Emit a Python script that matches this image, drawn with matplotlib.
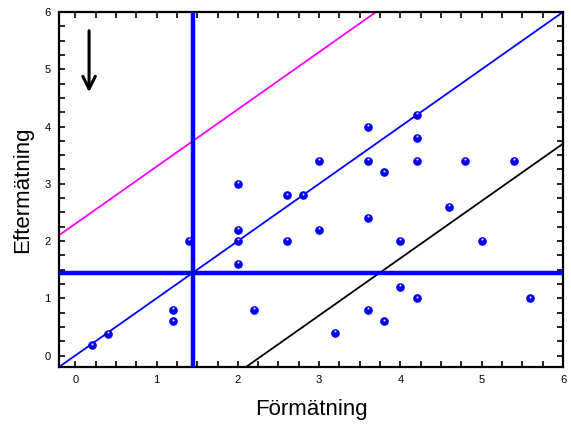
import matplotlib
matplotlib.use("Agg")
import matplotlib.pyplot as plt
import matplotlib.transforms as mtransforms
import numpy as np
from matplotlib.ticker import MultipleLocator

plt.rcParams.update({
    "font.family": ["Liberation Sans", "DejaVu Sans"],
})

# data
fore = [0.2, 0.4, 1.2, 1.2, 1.4, 2.0, 2.0, 2.0, 2.0, 2.2, 2.6, 2.6, 2.8, 3.0, 3.0,
        3.2, 3.6, 3.6, 3.6, 3.6, 3.8, 3.8, 4.0, 4.0, 4.2, 4.2, 4.2, 4.2, 4.6,
        4.8, 5.0, 5.4, 5.6]
efter = [0.18, 0.38, 0.8, 0.6, 2.0, 3.0, 2.2, 2.0, 1.6, 0.8, 2.8, 2.0, 2.8, 3.4, 2.2,
         0.4, 4.0, 3.4, 2.4, 0.8, 3.2, 0.6, 2.0, 1.2, 4.2, 3.8, 3.4, 1.0, 2.6,
         3.4, 2.0, 3.4, 1.0]
cut_x, cut_y = 1.45, 1.45
offsets = [0.0, 2.3, -2.3]        # identity line and +/- limits
offset_colors = ["#0000ff", "#ff00ff", "#000000"]

fig = plt.figure(figsize=(5.71, 4.28), dpi=100)
ax = fig.add_axes([0.1033, 0.1425, 0.8827, 0.8295])
lo, hi = -0.2, 6.0

xx = np.array([lo, hi])
for off, col in zip(offsets, offset_colors):
    ax.plot(xx, xx + off, color=col, lw=1.3, zorder=2)

ax.axvline(cut_x, color="#0000ff", lw=3.2, zorder=3)
ax.axhline(cut_y, color="#0000ff", lw=3.2, zorder=3)

ax.plot(fore, efter, "o", ms=5.2, color="#0000ee", markeredgecolor="#0000ee",
        zorder=4)
# small shine on top of each dot
shine = ax.transData + mtransforms.ScaledTranslation(0, 1.2 / 72, fig.dpi_scale_trans)
ax.plot(fore, efter, "o", ms=1.5, color="#d8d8ff", markeredgewidth=0, zorder=5,
        transform=shine)

ax.annotate("", xy=(0.17, 4.55), xytext=(0.17, 5.72),
            arrowprops=dict(arrowstyle="->,head_length=0.9,head_width=0.45",
                            color="black", lw=2.2))

ax.set_xlim(lo, hi)
ax.set_ylim(lo, hi)
ax.xaxis.set_major_locator(MultipleLocator(1))
ax.yaxis.set_major_locator(MultipleLocator(1))
ax.xaxis.set_minor_locator(MultipleLocator(0.25))
ax.yaxis.set_minor_locator(MultipleLocator(0.25))
ax.tick_params(which="both", direction="in", top=True, right=True,
               labelsize=8, width=1.2, color="black", pad=6)
ax.tick_params(which="major", length=4)
ax.tick_params(which="minor", length=4)
for s in ax.spines.values():
    s.set_linewidth(1.6)

ax.set_xlabel("Förmätning", fontsize=16, labelpad=10)
ax.set_ylabel("Eftermätning", fontsize=16, labelpad=8)

fig.savefig("out.png", dpi=100)
